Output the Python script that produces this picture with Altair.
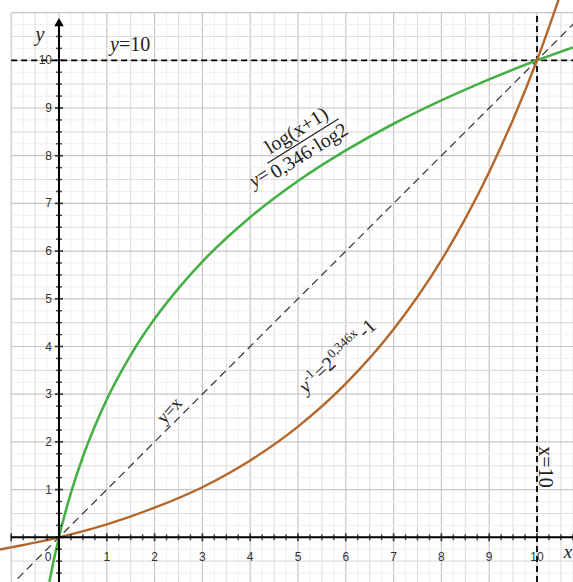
import altair as alt
import numpy as np
import pandas as pd

# ---- data ----
green_x = [-0.2, -0.15, -0.1, 0, 0.1, 0.25, 0.5, 0.75, 1, 1.5, 2, 2.5, 3, 4, 5, 6, 7, 8, 9, 10, 10.75]
green_y = [-0.93, -0.68, -0.44, 0, 0.40, 0.93, 1.69, 2.33, 2.89, 3.82, 4.58, 5.22, 5.78, 6.71, 7.47, 8.11, 8.67, 9.16, 9.60, 10.0, 10.27]
brown_x = [-1.25, -1, -0.5, 0, 1, 2, 3, 4, 5, 6, 7, 8, 8.5, 9, 9.5, 10, 10.5]
brown_y = [-0.26, -0.21, -0.11, 0, 0.27, 0.62, 1.05, 1.61, 2.32, 3.22, 4.36, 5.81, 6.68, 7.66, 8.76, 10.0, 11.41]
diag_x = [-1.25, 10.8]
diag_y = [-1.25, 10.8]
x_tick_labels = [1, 2, 3, 4, 5, 6, 7, 8, 9, 10]
y_tick_labels = [1, 2, 3, 4, 5, 6, 7, 8, 9, 10]

W, H = 573, 582
XMIN, XMAX = -1.234, 10.753
YMIN, YMAX = -0.937, 11.264
xs = alt.Scale(domain=[XMIN, XMAX], nice=False, zero=False)
ys = alt.Scale(domain=[YMIN, YMAX], nice=False, zero=False)


def X(f):
    return alt.X(f, type="quantitative", scale=xs, axis=None)


def Y(f):
    return alt.Y(f, type="quantitative", scale=ys, axis=None)


def p2d(px, py):
    return XMIN + px / W * (XMAX - XMIN), YMAX - py / H * (YMAX - YMIN)


# ---- grid ----
steps = np.arange(-1, 11.01, 0.25)


def level(v):
    if abs(v - round(v)) < 1e-9:
        return "major"
    if abs(v * 2 - round(v * 2)) < 1e-9:
        return "half"
    return "quarter"


vx = [v for v in steps if v <= XMAX]
vgrid = pd.DataFrame({"x": vx, "y0": YMIN, "y1": 11.0, "lvl": [level(v) for v in vx]})
hy = [v for v in steps if v >= YMIN and v <= 11.0]
hgrid = pd.DataFrame({"y": hy, "x0": -1.0, "x1": XMAX, "lvl": [level(v) for v in hy]})
gcol = alt.Color("lvl:N", scale=alt.Scale(domain=["major", "half", "quarter"],
                                          range=["#cbc3c3", "#e0dcdc", "#f0eeee"]), legend=None)
gw = alt.StrokeWidth("lvl:N", scale=alt.Scale(domain=["major", "half", "quarter"],
                                              range=[1.2, 1.0, 0.8]), legend=None)
vg = alt.Chart(vgrid).mark_rule().encode(x=X("x"), y=Y("y0"), y2="y1", color=gcol, strokeWidth=gw)
hg = alt.Chart(hgrid).mark_rule().encode(y=Y("y"), x=X("x0"), x2="x1", color=gcol, strokeWidth=gw)

# ---- reference lines ----
ref_h = alt.Chart(pd.DataFrame({"y": [10.0], "x0": [-1.0], "x1": [XMAX]})).mark_rule(
    color="black", strokeWidth=1.8, strokeDash=[6, 4]).encode(y=Y("y"), x=X("x0"), x2="x1")
ref_v = alt.Chart(pd.DataFrame({"x": [10.0], "y0": [YMIN], "y1": [11.0]})).mark_rule(
    color="black", strokeWidth=1.8, strokeDash=[6, 4]).encode(x=X("x"), y=Y("y0"), y2="y1")

# ---- axes ----
axx = alt.Chart(pd.DataFrame({"y": [0.0], "x0": [-1.0], "x1": [XMAX]})).mark_rule(
    color="black", strokeWidth=2).encode(y=Y("y"), x=X("x0"), x2="x1")
axy = alt.Chart(pd.DataFrame({"x": [0.0], "y0": [YMIN], "y1": [10.8]})).mark_rule(
    color="black", strokeWidth=2).encode(x=X("x"), y=Y("y0"), y2="y1")
arrow = alt.Chart(pd.DataFrame({"x": [0.0], "y": [10.8]})).mark_point(
    shape="triangle-up", filled=True, color="black", size=90, opacity=1).encode(x=X("x"), y=Y("y"))

tx = np.arange(-1, 10.76, 0.25)
tdf = pd.DataFrame({"x": tx, "y": 0.0, "major": [abs(v - round(v)) < 1e-9 for v in tx]})
xticks_min = alt.Chart(tdf[~tdf.major]).mark_tick(orient="vertical", size=6, thickness=1.5, color="black").encode(x=X("x"), y=Y("y"))
xticks_maj = alt.Chart(tdf[tdf.major]).mark_tick(orient="vertical", size=8, thickness=1.8, color="black").encode(x=X("x"), y=Y("y"))
ty = np.arange(-0.75, 10.76, 0.25)
tydf = pd.DataFrame({"y": ty, "x": 0.0, "major": [abs(v - round(v)) < 1e-9 for v in ty]})
yticks_min = alt.Chart(tydf[~tydf.major]).mark_tick(orient="horizontal", size=6, thickness=1.5, color="black").encode(x=X("x"), y=Y("y"))
yticks_maj = alt.Chart(tydf[tydf.major]).mark_tick(orient="horizontal", size=8, thickness=1.8, color="black").encode(x=X("x"), y=Y("y"))

xl = alt.Chart(pd.DataFrame({"x": x_tick_labels, "y": 0.0, "t": [str(v) for v in x_tick_labels]})).mark_text(
    font="Liberation Sans", fontSize=12, color="#333", baseline="middle", dy=20).encode(x=X("x"), y=Y("y"), text="t:N")
zero = alt.Chart(pd.DataFrame({"x": [0.0], "y": [0.0], "t": ["0"]})).mark_text(
    font="Liberation Sans", fontSize=12, color="#333", baseline="middle", dy=20, dx=-11).encode(x=X("x"), y=Y("y"), text="t:N")
yl = alt.Chart(pd.DataFrame({"y": y_tick_labels, "x": 0.0, "t": [str(v) for v in y_tick_labels]})).mark_text(
    font="Liberation Sans", fontSize=12, color="#333", baseline="middle", align="right", dx=-7).encode(x=X("x"), y=Y("y"), text="t:N")

# ---- curves ----
diag = alt.Chart(pd.DataFrame({"x": diag_x, "y": diag_y})).mark_line(
    color="#333", strokeWidth=1.2, strokeDash=[8, 5], clip=True).encode(x=X("x"), y=Y("y"))
green = alt.Chart(pd.DataFrame({"x": green_x, "y": green_y})).mark_line(
    color="#45b046", strokeWidth=2.6, interpolate="monotone", clip=True).encode(x=X("x"), y=Y("y"))
brown = alt.Chart(pd.DataFrame({"x": brown_x, "y": brown_y})).mark_line(
    color="#b3672b", strokeWidth=2.4, interpolate="monotone", clip=True).encode(x=X("x"), y=Y("y"))


# ---- annotations (positioned in pixels, converted to data) ----
def txt(px, py, t, size=20, style="normal", angle=0, align="center", baseline="middle"):
    x, y = p2d(px, py)
    return alt.Chart(pd.DataFrame({"x": [x], "y": [y], "t": [t]})).mark_text(
        font="Liberation Serif", fontSize=size, fontStyle=style, angle=angle, align=align,
        baseline=baseline, color="#222").encode(x=X("x"), y=Y("y"), text="t:N")


def along(p, u, n, a, b):
    return p[0] + a * u[0] + b * n[0], p[1] + a * u[1] + b * n[1]


# green fraction label
th = np.radians(32)
u = (np.cos(th), -np.sin(th))
n = (np.sin(th), np.cos(th))
C = (303, 141)
b0 = p2d(*along(C, u, n, -42, 0))
b1 = p2d(*along(C, u, n, 42, 0))
bar = alt.Chart(pd.DataFrame({"x": [b0[0]], "y": [b0[1]], "x2": [b1[0]], "y2": [b1[1]]})).mark_rule(
    color="#222", strokeWidth=1.3).encode(x=X("x"), y=Y("y"), x2="x2", y2="y2")
ang_g = 360 - 32
frac = [
    txt(*along(C, u, n, 0, -12), "log(x+1)", angle=ang_g),
    txt(*along(C, u, n, 0, 12), "0,346·log2", angle=ang_g),
    txt(*along(C, u, n, -62, 8), "y", style="italic", angle=ang_g),
    txt(*along(C, u, n, -52, 8), "=", angle=ang_g),
]

# brown label
th2 = np.radians(43)
u2 = (np.cos(th2), -np.sin(th2))
n2 = (np.sin(th2), np.cos(th2))
S = (306, 394)
ang_b = 360 - 43
brl = [
    txt(*along(S, u2, n2, 0, 0), "y", style="italic", angle=ang_b, align="left", baseline="alphabetic"),
    txt(*along(S, u2, n2, 9, -8), "-1", size=13, angle=ang_b, align="left", baseline="alphabetic"),
    txt(*along(S, u2, n2, 21, 0), "=2", angle=ang_b, align="left", baseline="alphabetic"),
    txt(*along(S, u2, n2, 43, -8), "0,346x", size=13, angle=ang_b, align="left", baseline="alphabetic"),
    txt(*along(S, u2, n2, 81, 0), "-1", angle=ang_b, align="left", baseline="alphabetic"),
]

ann = [
    txt(40, 35, "y", size=20, style="italic"),
    txt(110, 45, "y", size=20, style="italic", align="left"),
    txt(119, 45, "=10", size=20, align="left"),
    txt(568, 552, "x", size=19, style="italic"),
    txt(545, 467, "x=10", size=20, angle=90),
    txt(170, 411, "y=x", size=18, angle=312),
] + frac + brl

chart = alt.layer(
    vg, hg, ref_h, ref_v, diag, green, brown, axx, axy, arrow,
    xticks_min, xticks_maj, yticks_min, yticks_maj, xl, zero, yl, bar, *ann
).resolve_scale(color="independent", strokeWidth="independent").properties(
    width=W, height=H, padding=0, autosize=alt.AutoSizeParams(type="none")
).configure_view(stroke=None)

chart.save("out.html", embed_options={"renderer": "svg", "actions": False})
